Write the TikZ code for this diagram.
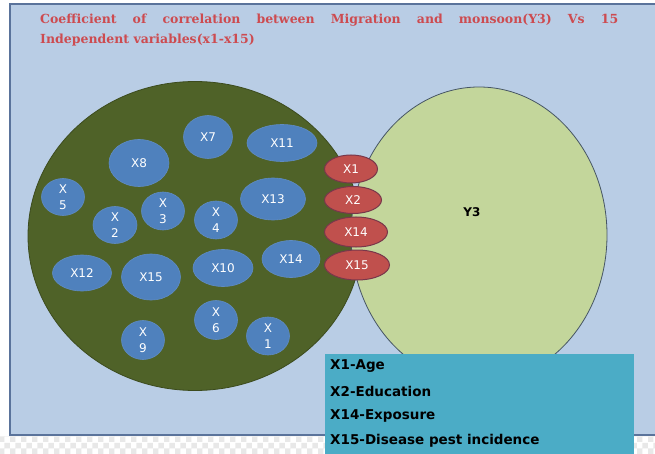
\documentclass[tikz,border=0pt]{standalone}
\usepackage{fontspec}
\usetikzlibrary{shapes.geometric,patterns}
\newfontfamily\labfont{DejaVu Sans}
\newfontfamily\titfont{DejaVu Serif}
\definecolor{bgblue}{RGB}{185,205,229}
\definecolor{bgline}{RGB}{90,115,155}
\definecolor{dkgreen}{RGB}{79,98,40}
\definecolor{dkgreenline}{RGB}{60,75,30}
\definecolor{ltgreen}{RGB}{195,214,155}
\definecolor{ltgreenline}{RGB}{70,85,100}
\definecolor{redfill}{RGB}{192,80,77}
\definecolor{redline}{RGB}{120,55,75}
\definecolor{bluefill}{RGB}{79,129,189}
\definecolor{blueline}{RGB}{95,140,195}
\definecolor{teal}{RGB}{75,172,198}
\definecolor{titred}{RGB}{205,75,80}
\tikzset{
  varb/.style={ellipse, fill=bluefill, draw=blueline, line width=0.6pt, inner sep=0pt,
    text=white, font=\labfont\fontsize{12}{16}\selectfont, align=center},
  varr/.style={ellipse, fill=redfill, draw=redline, line width=1pt, inner sep=0pt,
    text=white, font=\labfont\fontsize{12}{14}\selectfont},
  legtext/.style={anchor=west, inner sep=0pt, font=\labfont\bfseries\fontsize{13.5}{15}\selectfont, text=black}
}
\begin{document}
\begin{tikzpicture}[x=1pt,y=-1pt]
\useasboundingbox (0,0) rectangle (655,454);
\fill[white] (0,0) rectangle (655,454);
\fill[pattern=checkerboard, pattern color=gray!18] (0,436) rectangle (655,454);
\draw[bgline, line width=1.2pt, fill=bgblue] (10,4) rectangle (660,435);
% title
\node[anchor=north west, text width=578pt, align=justify, inner sep=0pt, text=titred,
  font=\titfont\bfseries\fontsize{12.5}{20}\selectfont] (title) at (40,14)
  {Coefficient of correlation between Migration and monsoon(Y3) Vs 15\linebreak Independent variables(x1-x15)};
% big ellipses
\node[ellipse, fill=dkgreen, draw=dkgreenline, line width=0.8pt, minimum width=334pt, minimum height=309pt, inner sep=0pt] (green) at (195,236) {};
\node[ellipse, fill=ltgreen, draw=ltgreenline, line width=0.8pt, minimum width=256pt, minimum height=296pt, inner sep=0pt] (ltgreen) at (479,235) {};
\node[font=\labfont\bfseries\fontsize{12}{14}\selectfont] (y3) at (472,212) {Y3};
% red ellipses
\node[varr, minimum width=53pt, minimum height=28pt] (r1) at (351,169) {X1};
\node[varr, minimum width=57pt, minimum height=27pt] (r2) at (353,200) {X2};
\node[varr, minimum width=63pt, minimum height=30pt] (r14) at (356,232) {X14};
\node[varr, minimum width=65pt, minimum height=30pt] (r15) at (357,265) {X15};
% blue ellipses
\node[varb, minimum width=49pt, minimum height=43pt] (x7) at (208,137) {X7};
\node[varb, minimum width=70pt, minimum height=37pt] (x11) at (282,143) {X11};
\node[varb, minimum width=60pt, minimum height=47pt] (x8) at (139,163) {X8};
\node[varb, minimum width=43pt, minimum height=37pt] (x5) at (63,197) {X\\5};
\node[varb, minimum width=44pt, minimum height=37pt] (x2) at (115,225) {X\\2};
\node[varb, minimum width=43pt, minimum height=38pt] (x3) at (163,211) {X\\3};
\node[varb, minimum width=43pt, minimum height=38pt] (x4) at (216,220) {X\\4};
\node[varb, minimum width=65pt, minimum height=42pt] (x13) at (273,199) {X13};
\node[varb, minimum width=58pt, minimum height=37pt] (x14) at (291,259) {X14};
\node[varb, minimum width=59pt, minimum height=36pt] (x12) at (82,273) {X12};
\node[varb, minimum width=59pt, minimum height=46pt] (x15) at (151,277) {X15};
\node[varb, minimum width=60pt, minimum height=37pt] (x10) at (223,268) {X10};
\node[varb, minimum width=43pt, minimum height=39pt] (x6) at (216,320) {X\\6};
\node[varb, minimum width=43pt, minimum height=38pt] (x1) at (268,336) {X\\1};
\node[varb, minimum width=43pt, minimum height=39pt] (x9) at (143,340) {X\\9};
% legend
\fill[teal] (325,354) rectangle (634,454);
\node[legtext] (l1) at (330,366) {X1-Age};
\node[legtext] (l2) at (330,391) {X2-Education};
\node[legtext] (l3) at (330,416) {X14-Exposure};
\node[legtext] (l4) at (330,441) {X15-Disease pest incidence};
\end{tikzpicture}
\end{document}
